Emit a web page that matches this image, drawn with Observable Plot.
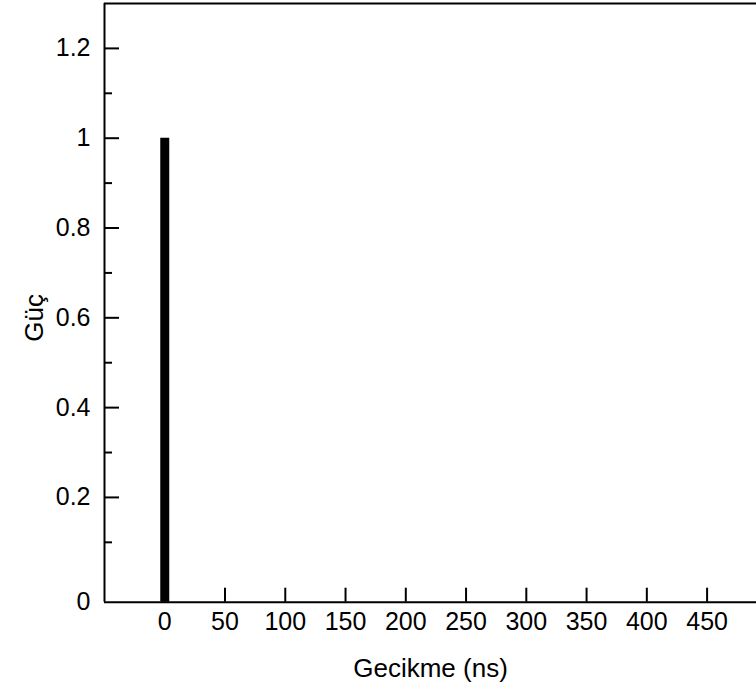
<!DOCTYPE html>
<html>
<head>
<meta charset="utf-8">
<script src="https://cdn.jsdelivr.net/npm/d3@7"></script>
<script src="https://cdn.jsdelivr.net/npm/@observablehq/plot@0.6"></script>
<style>
  html, body { margin: 0; padding: 0; background: #fff; }
</style>
</head>
<body>
<div id="chart"></div>
<script>
// Data
const delays = [0];          // ns
const powers = [1];          // normalized power

// Axes / ticks
const xDomain = [-50, 491];
const yDomain = [-1 / 30, 1.3];
const xTicks = [0, 50, 100, 150, 200, 250, 300, 350, 400, 450];
const yTicks = [0.2, 0.4, 0.6, 0.8, 1, 1.2];
const yMinorTicks = [0.1, 0.3, 0.5, 0.7, 0.9, 1.1];
const yBottomLabel = ["0"];
const xLabel = ["Gecikme (ns)"];
const yLabel = ["Güç"];

const data = delays.map((d, i) => ({delay: d, power: powers[i]}));
const fmt = d => String(d);

const chart = Plot.plot({
  width: 756,
  height: 694,
  marginLeft: 104,
  marginRight: 0,
  marginTop: 3,
  marginBottom: 92.3,
  style: {fontSize: "25px", fontFamily: "'Liberation Sans', Arial, Helvetica, sans-serif", background: "#fff", color: "#000"},
  x: {domain: xDomain, axis: null},
  y: {domain: yDomain, axis: null},
  marks: [
    // bar
    Plot.ruleX(data, {x: "delay", y1: () => yDomain[0], y2: "power", stroke: "#000", strokeWidth: 9}),
    // frame lines
    Plot.ruleX([xDomain[0]], {stroke: "#000", strokeWidth: 2}),
    Plot.ruleY([yDomain[0], yDomain[1]], {stroke: "#000", strokeWidth: 2}),
    // y ticks (inward)
    Plot.axisY({ticks: yTicks, tickSize: -15, tickFormat: () => "", strokeWidth: 2, anchor: "left", label: null}),
    Plot.axisY({ticks: yMinorTicks, tickSize: -8, tickFormat: () => "", strokeWidth: 2, anchor: "left", label: null}),
    // y labels
    Plot.axisY({ticks: yTicks, tickSize: 0, tickPadding: 14, tickFormat: fmt, anchor: "left", label: null, fontSize: 25}),
    Plot.axisY({ticks: [yDomain[0]], tickSize: 0, tickPadding: 14, tickFormat: (d) => yBottomLabel[0], anchor: "left", label: null, fontSize: 25}),
    // x ticks (inward)
    Plot.axisX({ticks: xTicks, tickSize: -14, tickFormat: () => "", strokeWidth: 2, anchor: "bottom", label: null}),
    Plot.axisX({ticks: xTicks, tickSize: 0, tickPadding: 10, tickFormat: fmt, anchor: "bottom", label: null, fontSize: 25}),
    // axis titles
    Plot.text(xLabel, {text: d => d, frameAnchor: "bottom", textAnchor: "middle", dy: 75, fill: "#000", fontSize: 26}),
    Plot.text(yLabel, {text: d => d, frameAnchor: "left", textAnchor: "middle", rotate: -90, dx: -70, dy: 15, fill: "#000", fontSize: 26})
  ]
});
document.getElementById("chart").appendChild(chart);
</script>
</body>
</html>
